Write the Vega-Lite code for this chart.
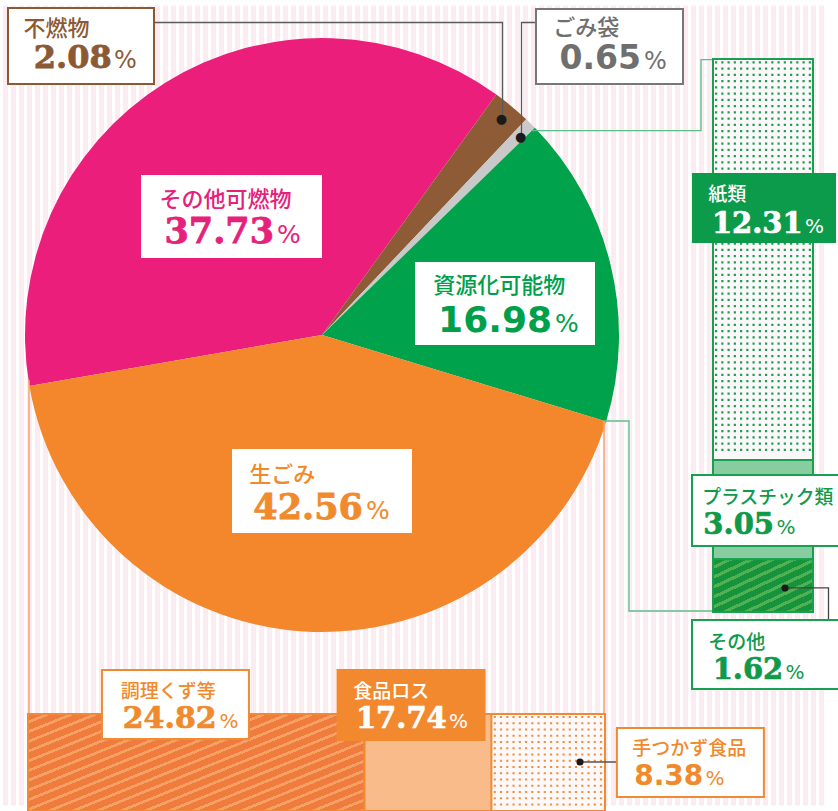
{
  "$schema": "https://vega.github.io/schema/vega-lite/v6.json",
  "padding": 0,
  "background": "#ffffff",
  "config": {"view": {"stroke": null}},
  "datasets": {
    "pie": [
      {"name": "その他可燃物", "value": 37.73, "order": 1},
      {"name": "不燃物", "value": 2.08, "order": 2},
      {"name": "ごみ袋", "value": 0.65, "order": 3},
      {"name": "資源化可能物", "value": 16.98, "order": 4},
      {"name": "生ごみ", "value": 42.56, "order": 5}
    ],
    "food": [
      {"name": "食品ロス", "value": 17.74, "order": 1, "level": 1},
      {"name": "調理くず等", "value": 24.82, "order": 2, "level": 1},
      {"name": "手つかず食品", "value": 8.38, "order": 1, "level": 2}
    ],
    "res": [
      {"name": "紙類", "value": 12.31, "order": 1},
      {"name": "プラスチック類", "value": 3.05, "order": 2},
      {"name": "その他", "value": 1.62, "order": 3}
    ]
  },
  "bounds": "flush",
  "align": "each",
  "columns": 2,
  "spacing": {"row": 44, "column": 69},
  "concat": [
    {
      "width": 644,
      "height": 670,
      "data": {"name": "pie"},
      "transform": [
        {"stack": "value", "groupby": [], "sort": [{"field": "order", "order": "ascending"}], "as": ["a0", "a1"]},
        {"calculate": "(datum.a0 + datum.a1) / 2", "as": "mid"}
      ],
      "layer": [
        {
          "transform": [{"filter": "datum.name === 'その他可燃物'"}],
          "mark": {"type": "point", "shape": "M-316.5,-329.5v800m8,-800v800m8,-800v800m8,-800v800m8,-800v800m8,-800v800m8,-800v800m8,-800v800m8,-800v800m8,-800v800m8,-800v800m8,-800v800m8,-800v800m8,-800v800m8,-800v800m8,-800v800m8,-800v800m8,-800v800m8,-800v800m8,-800v800m8,-800v800m8,-800v800m8,-800v800m8,-800v800m8,-800v800m8,-800v800m8,-800v800m8,-800v800m8,-800v800m8,-800v800m8,-800v800m8,-800v800m8,-800v800m8,-800v800m8,-800v800m8,-800v800m8,-800v800m8,-800v800m8,-800v800m8,-800v800m8,-800v800m8,-800v800m8,-800v800m8,-800v800m8,-800v800m8,-800v800m8,-800v800m8,-800v800m8,-800v800m8,-800v800m8,-800v800m8,-800v800m8,-800v800m8,-800v800m8,-800v800m8,-800v800m8,-800v800m8,-800v800m8,-800v800m8,-800v800m8,-800v800m8,-800v800m8,-800v800m8,-800v800m8,-800v800m8,-800v800m8,-800v800m8,-800v800m8,-800v800m8,-800v800m8,-800v800m8,-800v800m8,-800v800m8,-800v800m8,-800v800m8,-800v800m8,-800v800m8,-800v800m8,-800v800m8,-800v800m8,-800v800m8,-800v800m8,-800v800m8,-800v800m8,-800v800m8,-800v800m8,-800v800m8,-800v800m8,-800v800m8,-800v800m8,-800v800m8,-800v800m8,-800v800m8,-800v800m8,-800v800m8,-800v800m8,-800v800m8,-800v800m8,-800v800m8,-800v800m8,-800v800m8,-800v800m8,-800v800", "size": 4, "filled": false, "stroke": "#fcecf2", "strokeWidth": 5, "strokeJoin": "bevel", "opacity": 1}
        },
        {
          "mark": {"type": "arc", "outerRadius": 297},
          "encoding": {
            "theta": {"field": "a0", "type": "quantitative", "stack": null, "scale": {"domain": [0, 100], "range": [4.54, 10.8232], "nice": false, "zero": false}},
            "theta2": {"field": "a1"},
            "color": {"field": "name", "type": "nominal", "legend": null, "scale": {"domain": ["その他可燃物", "不燃物", "ごみ袋", "資源化可能物", "生ごみ"], "range": ["#eb1f7b", "#8d5b35", "#c9c9c9", "#00a34c", "#f4862b"]}}
          }
        },
        {
          "transform": [{"filter": "datum.name === '不燃物'"}],
          "mark": {"type": "point", "shape": "M0,0L0,-95.5L-347.5,-95.5", "size": 4, "filled": false, "stroke": "#5a5a5a", "strokeWidth": 1.3, "opacity": 1, "xOffset": 180.5, "yOffset": -217}
        },
        {
          "transform": [{"filter": "datum.name === 'ごみ袋'"}],
          "mark": {"type": "point", "shape": "M0,0L0,-114.5L13.5,-114.5", "size": 4, "filled": false, "stroke": "#5a5a5a", "strokeWidth": 1.3, "opacity": 1, "xOffset": 199.5, "yOffset": -198}
        },
        {
          "transform": [{"filter": "datum.name === '資源化可能物'"}],
          "mark": {"type": "point", "shape": "M0,0L169.5,0L169.5,-71L181.5,-71", "size": 4, "filled": false, "stroke": "#5bbd88", "strokeWidth": 1.3, "opacity": 1, "xOffset": 209.5, "yOffset": -204.3}
        },
        {
          "transform": [{"filter": "datum.name === '資源化可能物'"}],
          "mark": {"type": "point", "shape": "M0,0L25,0L25,190L109,190", "size": 4, "filled": false, "stroke": "#5bbd88", "strokeWidth": 1.3, "opacity": 1, "xOffset": 282, "yOffset": 86}
        },
        {
          "transform": [{"filter": "datum.name === '生ごみ'"}],
          "mark": {"type": "point", "shape": "M0,0L0,334", "size": 4, "filled": false, "stroke": "#f6a56b", "strokeWidth": 1.5, "opacity": 1, "xOffset": -293, "yOffset": 45}
        },
        {
          "transform": [{"filter": "datum.name === '生ごみ'"}],
          "mark": {"type": "point", "shape": "M0,0L0,293", "size": 4, "filled": false, "stroke": "#f6a56b", "strokeWidth": 1.5, "opacity": 1, "xOffset": 282, "yOffset": 86}
        },
        {
          "transform": [{"filter": "datum.name === 'その他可燃物'"}],
          "mark": {"type": "point", "shape": "M-1,-0.4586L1,-0.4586L1,0.4586L-1,0.4586Z", "size": 32761, "filled": true, "fill": "#ffffff", "strokeWidth": 0, "opacity": 1, "xOffset": -90.5, "yOffset": -118.5}
        },
        {
          "transform": [{"filter": "datum.name === '資源化可能物'"}],
          "mark": {"type": "point", "shape": "M-1,-0.4611L1,-0.4611L1,0.4611L-1,0.4611Z", "size": 32400, "filled": true, "fill": "#ffffff", "strokeWidth": 0, "opacity": 1, "xOffset": 183, "yOffset": -31.5}
        },
        {
          "transform": [{"filter": "datum.name === '生ごみ'"}],
          "mark": {"type": "point", "shape": "M-1,-0.4667L1,-0.4667L1,0.4667L-1,0.4667Z", "size": 32400, "filled": true, "fill": "#ffffff", "strokeWidth": 0, "opacity": 1, "xOffset": 0, "yOffset": 156}
        },
        {
          "transform": [{"filter": "datum.name === '不燃物'"}],
          "mark": {"type": "point", "shape": "M-1,-0.5205L1,-0.5205L1,0.5205L-1,0.5205Z", "size": 21316, "filled": true, "fill": "#ffffff", "stroke": "#8b5a35", "strokeWidth": 2, "opacity": 1, "xOffset": -241, "yOffset": -289}
        },
        {
          "transform": [{"filter": "datum.name === 'ごみ袋'"}],
          "mark": {"type": "point", "shape": "M-1,-0.5102L1,-0.5102L1,0.5102L-1,0.5102Z", "size": 21609, "filled": true, "fill": "#ffffff", "stroke": "#777777", "strokeWidth": 2, "opacity": 1, "xOffset": 287.5, "yOffset": -288.5}
        },
        {
          "transform": [{"filter": "datum.name === 'その他可燃物'"}],
          "mark": {"type": "text", "radius": 140, "dx": -88.5, "dy": -15.8, "align": "left", "baseline": "middle", "font": "Noto Sans CJK JP", "fontSize": 22, "fontWeight": 500, "fill": "#e6217b"},
          "encoding": {"theta": {"field": "mid", "type": "quantitative", "stack": null, "scale": {"domain": [0, 100], "range": [4.54, 10.8232], "nice": false, "zero": false}}, "text": {"field": "name"}}
        },
        {
          "transform": [{"filter": "datum.name === '資源化可能物'"}],
          "mark": {"type": "text", "radius": 188, "dx": -71.4, "dy": -4.8, "align": "left", "baseline": "middle", "font": "Noto Sans CJK JP", "fontSize": 22, "fontWeight": 500, "fill": "#00a04b"},
          "encoding": {"theta": {"field": "mid", "type": "quantitative", "stack": null, "scale": {"domain": [0, 100], "range": [4.54, 10.8232], "nice": false, "zero": false}}, "text": {"field": "name"}}
        },
        {
          "transform": [{"filter": "datum.name === '生ごみ'"}],
          "mark": {"type": "text", "radius": 156, "dx": -63.2, "dy": -15.7, "align": "left", "baseline": "middle", "font": "Noto Sans CJK JP", "fontSize": 22, "fontWeight": 500, "fill": "#f08a2c"},
          "encoding": {"theta": {"field": "mid", "type": "quantitative", "stack": null, "scale": {"domain": [0, 100], "range": [4.54, 10.8232], "nice": false, "zero": false}}, "text": {"field": "name"}}
        },
        {
          "transform": [{"filter": "datum.name === '不燃物'"}],
          "mark": {"type": "text", "radius": 281, "dx": -478.1, "dy": -89.9, "align": "left", "baseline": "middle", "font": "Noto Sans CJK JP", "fontSize": 22, "fontWeight": 500, "fill": "#8b5a35"},
          "encoding": {"theta": {"field": "mid", "type": "quantitative", "stack": null, "scale": {"domain": [0, 100], "range": [4.54, 10.8232], "nice": false, "zero": false}}, "text": {"field": "name"}}
        },
        {
          "transform": [{"filter": "datum.name === 'ごみ袋'"}],
          "mark": {"type": "text", "radius": 281, "dx": 34, "dy": -106.6, "align": "left", "baseline": "middle", "font": "Noto Sans CJK JP", "fontSize": 22, "fontWeight": 500, "fill": "#6f6f6f"},
          "encoding": {"theta": {"field": "mid", "type": "quantitative", "stack": null, "scale": {"domain": [0, 100], "range": [4.54, 10.8232], "nice": false, "zero": false}}, "text": {"field": "name"}}
        },
        {
          "transform": [{"filter": "datum.name === 'その他可燃物'"}],
          "mark": {"type": "text", "radius": 140, "dx": 26.2, "dy": 26.4, "align": "right", "baseline": "alphabetic", "font": "DejaVu Serif", "fontSize": 35, "fontWeight": "bold", "fill": "#e6217b", "stroke": "#e6217b", "strokeWidth": 0.8},
          "encoding": {"theta": {"field": "mid", "type": "quantitative", "stack": null, "scale": {"domain": [0, 100], "range": [4.54, 10.8232], "nice": false, "zero": false}}, "text": {"field": "value", "type": "quantitative", "format": ".2f"}}
        },
        {
          "transform": [{"filter": "datum.name === '資源化可能物'"}],
          "mark": {"type": "text", "radius": 188, "dx": 47.3, "dy": 41.1, "align": "right", "baseline": "alphabetic", "font": "DejaVu Sans", "fontSize": 36, "fontWeight": "bold", "fill": "#00a04b"},
          "encoding": {"theta": {"field": "mid", "type": "quantitative", "stack": null, "scale": {"domain": [0, 100], "range": [4.54, 10.8232], "nice": false, "zero": false}}, "text": {"field": "value", "type": "quantitative", "format": ".2f"}}
        },
        {
          "transform": [{"filter": "datum.name === '生ごみ'"}],
          "mark": {"type": "text", "radius": 156, "dx": 50.5, "dy": 28.6, "align": "right", "baseline": "alphabetic", "font": "DejaVu Serif", "fontSize": 35, "fontWeight": "bold", "fill": "#f08a2c", "stroke": "#f08a2c", "strokeWidth": 0.8},
          "encoding": {"theta": {"field": "mid", "type": "quantitative", "stack": null, "scale": {"domain": [0, 100], "range": [4.54, 10.8232], "nice": false, "zero": false}}, "text": {"field": "value", "type": "quantitative", "format": ".2f"}}
        },
        {
          "transform": [{"filter": "datum.name === '不燃物'"}],
          "mark": {"type": "text", "radius": 281, "dx": -389.7, "dy": -50.5, "align": "right", "baseline": "alphabetic", "font": "DejaVu Serif", "fontSize": 32, "fontWeight": "bold", "fill": "#8b5a35", "stroke": "#8b5a35", "strokeWidth": 0.8},
          "encoding": {"theta": {"field": "mid", "type": "quantitative", "stack": null, "scale": {"domain": [0, 100], "range": [4.54, 10.8232], "nice": false, "zero": false}}, "text": {"field": "value", "type": "quantitative", "format": ".2f"}}
        },
        {
          "transform": [{"filter": "datum.name === 'ごみ袋'"}],
          "mark": {"type": "text", "radius": 281, "dx": 121.7, "dy": -65.6, "align": "right", "baseline": "alphabetic", "font": "DejaVu Sans", "fontSize": 33, "fontWeight": "bold", "fill": "#6f6f6f"},
          "encoding": {"theta": {"field": "mid", "type": "quantitative", "stack": null, "scale": {"domain": [0, 100], "range": [4.54, 10.8232], "nice": false, "zero": false}}, "text": {"field": "value", "type": "quantitative", "format": ".2f"}}
        },
        {
          "transform": [{"filter": "datum.name === 'その他可燃物'"}],
          "mark": {"type": "text", "radius": 140, "dx": 29.2, "dy": 26.4, "align": "left", "baseline": "alphabetic", "font": "DejaVu Sans", "fontSize": 25, "fill": "#e6217b"},
          "encoding": {"theta": {"field": "mid", "type": "quantitative", "stack": null, "scale": {"domain": [0, 100], "range": [4.54, 10.8232], "nice": false, "zero": false}}, "text": {"value": "%"}}
        },
        {
          "transform": [{"filter": "datum.name === '資源化可能物'"}],
          "mark": {"type": "text", "radius": 188, "dx": 50.3, "dy": 41.1, "align": "left", "baseline": "alphabetic", "font": "DejaVu Sans", "fontSize": 25, "fill": "#00a04b"},
          "encoding": {"theta": {"field": "mid", "type": "quantitative", "stack": null, "scale": {"domain": [0, 100], "range": [4.54, 10.8232], "nice": false, "zero": false}}, "text": {"value": "%"}}
        },
        {
          "transform": [{"filter": "datum.name === '生ごみ'"}],
          "mark": {"type": "text", "radius": 156, "dx": 53.5, "dy": 28.6, "align": "left", "baseline": "alphabetic", "font": "DejaVu Sans", "fontSize": 25, "fill": "#f08a2c"},
          "encoding": {"theta": {"field": "mid", "type": "quantitative", "stack": null, "scale": {"domain": [0, 100], "range": [4.54, 10.8232], "nice": false, "zero": false}}, "text": {"value": "%"}}
        },
        {
          "transform": [{"filter": "datum.name === '不燃物'"}],
          "mark": {"type": "text", "radius": 281, "dx": -387.4, "dy": -50.5, "align": "left", "baseline": "alphabetic", "font": "DejaVu Sans", "fontSize": 24, "fill": "#8b5a35"},
          "encoding": {"theta": {"field": "mid", "type": "quantitative", "stack": null, "scale": {"domain": [0, 100], "range": [4.54, 10.8232], "nice": false, "zero": false}}, "text": {"value": "%"}}
        },
        {
          "transform": [{"filter": "datum.name === 'ごみ袋'"}],
          "mark": {"type": "text", "radius": 281, "dx": 124.7, "dy": -65.6, "align": "left", "baseline": "alphabetic", "font": "DejaVu Sans", "fontSize": 24, "fill": "#6f6f6f"},
          "encoding": {"theta": {"field": "mid", "type": "quantitative", "stack": null, "scale": {"domain": [0, 100], "range": [4.54, 10.8232], "nice": false, "zero": false}}, "text": {"value": "%"}}
        },
        {
          "transform": [{"filter": "datum.name === '不燃物'"}],
          "mark": {"type": "text", "radius": 281, "dx": 0, "dy": 0, "align": "center", "baseline": "middle", "font": "DejaVu Sans", "fontSize": 13, "fill": "#1a1a1a"},
          "encoding": {"theta": {"field": "mid", "type": "quantitative", "stack": null, "scale": {"domain": [0, 100], "range": [4.54, 10.8232], "nice": false, "zero": false}}, "text": {"value": "●"}}
        },
        {
          "transform": [{"filter": "datum.name === 'ごみ袋'"}],
          "mark": {"type": "text", "radius": 281, "dx": 1.4, "dy": 1.8, "align": "center", "baseline": "middle", "font": "DejaVu Sans", "fontSize": 13, "fill": "#1a1a1a"},
          "encoding": {"theta": {"field": "mid", "type": "quantitative", "stack": null, "scale": {"domain": [0, 100], "range": [4.54, 10.8232], "nice": false, "zero": false}}, "text": {"value": "●"}}
        }
      ]
    },
    {
      "width": 100,
      "height": 612,
      "data": {"name": "res"},
      "transform": [
        {"stack": "value", "groupby": [], "sort": [{"field": "order", "order": "ascending"}], "as": ["c0", "c1"]},
        {"calculate": "(datum.c0 + datum.c1) / 2", "as": "cm"}
      ],
      "encoding": {
        "y": {"field": "cm", "type": "quantitative", "axis": null, "scale": {"domain": [0, 16.98], "range": [59, 612], "nice": false, "zero": false}}
      },
      "layer": [
        {
          "transform": [{"filter": "datum.name === '紙類'"}],
          "mark": {"type": "rect", "fill": "#fcf7f9", "stroke": "#16a04f", "strokeWidth": 2},
          "encoding": {"y": {"field": "c0", "type": "quantitative", "axis": null, "scale": {"domain": [0, 16.98], "range": [59, 612], "nice": false, "zero": false}}, "y2": {"field": "c1"}}
        },
        {
          "transform": [{"filter": "datum.name === '紙類'"}],
          "mark": {"type": "point", "shape": "M-48,-197h97m-97,6.25h97m-97,6.25h97m-97,6.25h97m-97,6.25h97m-97,6.25h97m-97,6.25h97m-97,6.25h97m-97,6.25h97m-97,6.25h97m-97,6.25h97m-97,6.25h97m-97,6.25h97m-97,6.25h97m-97,6.25h97m-97,6.25h97m-97,6.25h97m-97,6.25h97m-97,6.25h97m-97,6.25h97m-97,6.25h97m-97,6.25h97m-97,6.25h97m-97,6.25h97m-97,6.25h97m-97,6.25h97m-97,6.25h97m-97,6.25h97m-97,6.25h97m-97,6.25h97m-97,6.25h97m-97,6.25h97m-97,6.25h97m-97,6.25h97m-97,6.25h97m-97,6.25h97m-97,6.25h97m-97,6.25h97m-97,6.25h97m-97,6.25h97m-97,6.25h97m-97,6.25h97m-97,6.25h97m-97,6.25h97m-97,6.25h97m-97,6.25h97m-97,6.25h97m-97,6.25h97m-97,6.25h97m-97,6.25h97m-97,6.25h97m-97,6.25h97m-97,6.25h97m-97,6.25h97m-97,6.25h97m-97,6.25h97m-97,6.25h97m-97,6.25h97m-97,6.25h97m-97,6.25h97m-97,6.25h97m-97,6.25h97m-97,6.25h97", "size": 4, "filled": false, "stroke": "#19a256", "strokeWidth": 2.2, "strokeDash": [2.2, 4.05], "strokeJoin": "bevel", "opacity": 1}
        },
        {
          "transform": [{"filter": "datum.name === 'プラスチック類'"}],
          "mark": {"type": "rect", "fill": "#88cda0", "stroke": "#16a04f", "strokeWidth": 2},
          "encoding": {"y": {"field": "c0", "type": "quantitative", "axis": null, "scale": {"domain": [0, 16.98], "range": [59, 612], "nice": false, "zero": false}}, "y2": {"field": "c1"}}
        },
        {
          "transform": [{"filter": "datum.name === 'その他'"}],
          "mark": {"type": "rect", "stroke": "#16a04f", "strokeWidth": 2, "fill": {"gradient": "linear", "x1": 0, "y1": 0, "x2": 0.9355, "y2": 1.0572, "stops": [
            {"offset": 0, "color": "#17923d"},
            {"offset": 0.065, "color": "#17923d"}, {"offset": 0.065, "color": "#4fb152"}, {"offset": 0.1, "color": "#4fb152"}, {"offset": 0.1, "color": "#17923d"},
            {"offset": 0.165, "color": "#17923d"}, {"offset": 0.165, "color": "#4fb152"}, {"offset": 0.2, "color": "#4fb152"}, {"offset": 0.2, "color": "#17923d"},
            {"offset": 0.265, "color": "#17923d"}, {"offset": 0.265, "color": "#4fb152"}, {"offset": 0.3, "color": "#4fb152"}, {"offset": 0.3, "color": "#17923d"},
            {"offset": 0.365, "color": "#17923d"}, {"offset": 0.365, "color": "#4fb152"}, {"offset": 0.4, "color": "#4fb152"}, {"offset": 0.4, "color": "#17923d"},
            {"offset": 0.465, "color": "#17923d"}, {"offset": 0.465, "color": "#4fb152"}, {"offset": 0.5, "color": "#4fb152"}, {"offset": 0.5, "color": "#17923d"},
            {"offset": 0.565, "color": "#17923d"}, {"offset": 0.565, "color": "#4fb152"}, {"offset": 0.6, "color": "#4fb152"}, {"offset": 0.6, "color": "#17923d"},
            {"offset": 0.665, "color": "#17923d"}, {"offset": 0.665, "color": "#4fb152"}, {"offset": 0.7, "color": "#4fb152"}, {"offset": 0.7, "color": "#17923d"},
            {"offset": 0.765, "color": "#17923d"}, {"offset": 0.765, "color": "#4fb152"}, {"offset": 0.8, "color": "#4fb152"}, {"offset": 0.8, "color": "#17923d"},
            {"offset": 0.865, "color": "#17923d"}, {"offset": 0.865, "color": "#4fb152"}, {"offset": 0.9, "color": "#4fb152"}, {"offset": 0.9, "color": "#17923d"},
            {"offset": 0.965, "color": "#17923d"}, {"offset": 0.965, "color": "#4fb152"}, {"offset": 1, "color": "#4fb152"}
          ]}},
          "encoding": {"y": {"field": "c0", "type": "quantitative", "axis": null, "scale": {"domain": [0, 16.98], "range": [59, 612], "nice": false, "zero": false}}, "y2": {"field": "c1"}}
        },
        {
          "transform": [{"filter": "datum.name === 'その他'"}],
          "mark": {"type": "point", "shape": "M0,0L43.5,0L43.5,32", "size": 4, "filled": false, "stroke": "#444444", "strokeWidth": 1.3, "opacity": 1, "xOffset": 22, "yOffset": 2.3}
        },
        {
          "transform": [{"filter": "datum.name === '紙類'"}],
          "mark": {"type": "point", "shape": "M-1,-0.4861L1,-0.4861L1,0.4861L-1,0.4861Z", "size": 20736, "filled": true, "fill": "#0b9b4a", "strokeWidth": 0, "opacity": 1, "xOffset": 1, "yOffset": -51.5}
        },
        {
          "transform": [{"filter": "datum.name === 'プラスチック類'"}],
          "mark": {"type": "point", "shape": "M-1,-0.4671L1,-0.4671L1,0.4671L-1,0.4671Z", "size": 23104, "filled": true, "fill": "#ffffff", "stroke": "#16a04f", "strokeWidth": 2, "opacity": 1, "xOffset": 5, "yOffset": 0.9}
        },
        {
          "transform": [{"filter": "datum.name === 'その他'"}],
          "mark": {"type": "point", "shape": "M-1,-0.4539L1,-0.4539L1,0.4539L-1,0.4539Z", "size": 23104, "filled": true, "fill": "#ffffff", "stroke": "#16a04f", "strokeWidth": 2, "opacity": 1, "xOffset": 5, "yOffset": 68.8}
        },
        {
          "transform": [{"filter": "datum.name === 'その他'"}],
          "mark": {"type": "point", "shape": "circle", "size": 50, "filled": true, "fill": "#1a1a1a", "opacity": 1, "xOffset": 22, "yOffset": 2.3}
        },
        {
          "transform": [{"filter": "datum.name === '紙類'"}],
          "mark": {"type": "text", "dx": -54.7, "dy": -64.3, "align": "left", "baseline": "middle", "font": "Noto Sans CJK JP", "fontSize": 19, "fontWeight": 500, "fill": "#ffffff"},
          "encoding": {"text": {"field": "name"}}
        },
        {
          "transform": [{"filter": "datum.name === 'プラスチック類'"}],
          "mark": {"type": "text", "dx": -60.8, "dy": -11.9, "align": "left", "baseline": "middle", "font": "Noto Sans CJK JP", "fontSize": 18.8, "fontWeight": 500, "fill": "#0f9a49"},
          "encoding": {"text": {"field": "name"}}
        },
        {
          "transform": [{"filter": "datum.name === 'その他'"}],
          "mark": {"type": "text", "dx": -54.7, "dy": 57.3, "align": "left", "baseline": "middle", "font": "Noto Sans CJK JP", "fontSize": 19, "fontWeight": 500, "fill": "#0f9a49"},
          "encoding": {"text": {"field": "name"}}
        },
        {
          "transform": [{"filter": "datum.name === '紙類'"}],
          "mark": {"type": "text", "dx": 39.7, "dy": -26.8, "align": "right", "baseline": "alphabetic", "font": "DejaVu Serif", "fontSize": 29, "fontWeight": "bold", "fill": "#ffffff", "stroke": "#ffffff", "strokeWidth": 0.7},
          "encoding": {"text": {"field": "value", "type": "quantitative", "format": ".2f"}}
        },
        {
          "transform": [{"filter": "datum.name === 'プラスチック類'"}],
          "mark": {"type": "text", "dx": 11, "dy": 24.7, "align": "right", "baseline": "alphabetic", "font": "DejaVu Serif", "fontSize": 29, "fontWeight": "bold", "fill": "#0f9a49", "stroke": "#0f9a49", "strokeWidth": 0.7},
          "encoding": {"text": {"field": "value", "type": "quantitative", "format": ".2f"}}
        },
        {
          "transform": [{"filter": "datum.name === 'その他'"}],
          "mark": {"type": "text", "dx": 20.3, "dy": 93, "align": "right", "baseline": "alphabetic", "font": "DejaVu Serif", "fontSize": 29, "fontWeight": "bold", "fill": "#0f9a49", "stroke": "#0f9a49", "strokeWidth": 0.7},
          "encoding": {"text": {"field": "value", "type": "quantitative", "format": ".2f"}}
        },
        {
          "transform": [{"filter": "datum.name === '紙類'"}],
          "mark": {"type": "text", "dx": 42, "dy": -26.8, "align": "left", "baseline": "alphabetic", "font": "DejaVu Sans", "fontSize": 20, "fill": "#ffffff"},
          "encoding": {"text": {"value": "%"}}
        },
        {
          "transform": [{"filter": "datum.name === 'プラスチック類'"}],
          "mark": {"type": "text", "dx": 13.5, "dy": 24.7, "align": "left", "baseline": "alphabetic", "font": "DejaVu Sans", "fontSize": 20, "fill": "#0f9a49"},
          "encoding": {"text": {"value": "%"}}
        },
        {
          "transform": [{"filter": "datum.name === 'その他'"}],
          "mark": {"type": "text", "dx": 22.5, "dy": 93, "align": "left", "baseline": "alphabetic", "font": "DejaVu Sans", "fontSize": 20, "fill": "#0f9a49"},
          "encoding": {"text": {"value": "%"}}
        }
      ]
    },
    {
      "width": 644,
      "height": 97,
      "data": {"name": "food"},
      "transform": [
        {"stack": "value", "groupby": ["level"], "sort": [{"field": "order", "order": "ascending"}], "as": ["b0", "b1"]},
        {"calculate": "(datum.b0 + datum.b1) / 2", "as": "bm"}
      ],
      "encoding": {
        "x": {"field": "bm", "type": "quantitative", "axis": null, "scale": {"domain": [0, 42.56], "range": [605, 28], "nice": false, "zero": false}}
      },
      "layer": [
        {
          "transform": [{"filter": "datum.name === '調理くず等'"}],
          "mark": {"type": "rect", "stroke": "#f08a33", "strokeWidth": 2, "fill": {"gradient": "linear", "x1": 0, "y1": 0, "x2": 1.136, "y2": 0.8095, "stops": [
            {"offset": 0, "color": "#ef7b3c"},
            {"offset": 0.0292, "color": "#ef7b3c"}, {"offset": 0.0292, "color": "#f6a066"}, {"offset": 0.0417, "color": "#f6a066"}, {"offset": 0.0417, "color": "#ef7b3c"},
            {"offset": 0.0708, "color": "#ef7b3c"}, {"offset": 0.0708, "color": "#f6a066"}, {"offset": 0.0833, "color": "#f6a066"}, {"offset": 0.0833, "color": "#ef7b3c"},
            {"offset": 0.1125, "color": "#ef7b3c"}, {"offset": 0.1125, "color": "#f6a066"}, {"offset": 0.125, "color": "#f6a066"}, {"offset": 0.125, "color": "#ef7b3c"},
            {"offset": 0.1542, "color": "#ef7b3c"}, {"offset": 0.1542, "color": "#f6a066"}, {"offset": 0.1667, "color": "#f6a066"}, {"offset": 0.1667, "color": "#ef7b3c"},
            {"offset": 0.1958, "color": "#ef7b3c"}, {"offset": 0.1958, "color": "#f6a066"}, {"offset": 0.2083, "color": "#f6a066"}, {"offset": 0.2083, "color": "#ef7b3c"},
            {"offset": 0.2375, "color": "#ef7b3c"}, {"offset": 0.2375, "color": "#f6a066"}, {"offset": 0.25, "color": "#f6a066"}, {"offset": 0.25, "color": "#ef7b3c"},
            {"offset": 0.2792, "color": "#ef7b3c"}, {"offset": 0.2792, "color": "#f6a066"}, {"offset": 0.2917, "color": "#f6a066"}, {"offset": 0.2917, "color": "#ef7b3c"},
            {"offset": 0.3208, "color": "#ef7b3c"}, {"offset": 0.3208, "color": "#f6a066"}, {"offset": 0.3333, "color": "#f6a066"}, {"offset": 0.3333, "color": "#ef7b3c"},
            {"offset": 0.3625, "color": "#ef7b3c"}, {"offset": 0.3625, "color": "#f6a066"}, {"offset": 0.375, "color": "#f6a066"}, {"offset": 0.375, "color": "#ef7b3c"},
            {"offset": 0.4042, "color": "#ef7b3c"}, {"offset": 0.4042, "color": "#f6a066"}, {"offset": 0.4167, "color": "#f6a066"}, {"offset": 0.4167, "color": "#ef7b3c"},
            {"offset": 0.4458, "color": "#ef7b3c"}, {"offset": 0.4458, "color": "#f6a066"}, {"offset": 0.4583, "color": "#f6a066"}, {"offset": 0.4583, "color": "#ef7b3c"},
            {"offset": 0.4875, "color": "#ef7b3c"}, {"offset": 0.4875, "color": "#f6a066"}, {"offset": 0.5, "color": "#f6a066"}, {"offset": 0.5, "color": "#ef7b3c"},
            {"offset": 0.5292, "color": "#ef7b3c"}, {"offset": 0.5292, "color": "#f6a066"}, {"offset": 0.5417, "color": "#f6a066"}, {"offset": 0.5417, "color": "#ef7b3c"},
            {"offset": 0.5708, "color": "#ef7b3c"}, {"offset": 0.5708, "color": "#f6a066"}, {"offset": 0.5833, "color": "#f6a066"}, {"offset": 0.5833, "color": "#ef7b3c"},
            {"offset": 0.6125, "color": "#ef7b3c"}, {"offset": 0.6125, "color": "#f6a066"}, {"offset": 0.625, "color": "#f6a066"}, {"offset": 0.625, "color": "#ef7b3c"},
            {"offset": 0.6542, "color": "#ef7b3c"}, {"offset": 0.6542, "color": "#f6a066"}, {"offset": 0.6667, "color": "#f6a066"}, {"offset": 0.6667, "color": "#ef7b3c"},
            {"offset": 0.6958, "color": "#ef7b3c"}, {"offset": 0.6958, "color": "#f6a066"}, {"offset": 0.7083, "color": "#f6a066"}, {"offset": 0.7083, "color": "#ef7b3c"},
            {"offset": 0.7375, "color": "#ef7b3c"}, {"offset": 0.7375, "color": "#f6a066"}, {"offset": 0.75, "color": "#f6a066"}, {"offset": 0.75, "color": "#ef7b3c"},
            {"offset": 0.7792, "color": "#ef7b3c"}, {"offset": 0.7792, "color": "#f6a066"}, {"offset": 0.7917, "color": "#f6a066"}, {"offset": 0.7917, "color": "#ef7b3c"},
            {"offset": 0.8208, "color": "#ef7b3c"}, {"offset": 0.8208, "color": "#f6a066"}, {"offset": 0.8333, "color": "#f6a066"}, {"offset": 0.8333, "color": "#ef7b3c"},
            {"offset": 0.8625, "color": "#ef7b3c"}, {"offset": 0.8625, "color": "#f6a066"}, {"offset": 0.875, "color": "#f6a066"}, {"offset": 0.875, "color": "#ef7b3c"},
            {"offset": 0.9042, "color": "#ef7b3c"}, {"offset": 0.9042, "color": "#f6a066"}, {"offset": 0.9167, "color": "#f6a066"}, {"offset": 0.9167, "color": "#ef7b3c"},
            {"offset": 0.9458, "color": "#ef7b3c"}, {"offset": 0.9458, "color": "#f6a066"}, {"offset": 0.9583, "color": "#f6a066"}, {"offset": 0.9583, "color": "#ef7b3c"},
            {"offset": 0.9875, "color": "#ef7b3c"}, {"offset": 0.9875, "color": "#f6a066"}, {"offset": 1, "color": "#f6a066"}
          ]}},
          "encoding": {"x": {"field": "b0", "type": "quantitative", "axis": null, "scale": {"domain": [0, 42.56], "range": [605, 28], "nice": false, "zero": false}}, "x2": {"field": "b1"}}
        },
        {
          "transform": [{"filter": "datum.name === '食品ロス'"}],
          "mark": {"type": "rect", "fill": "#f8bb89", "stroke": "#f08a33", "strokeWidth": 2},
          "encoding": {"x": {"field": "b0", "type": "quantitative", "axis": null, "scale": {"domain": [0, 42.56], "range": [605, 28], "nice": false, "zero": false}}, "x2": {"field": "b1"}}
        },
        {
          "transform": [{"filter": "datum.name === '手つかず食品'"}],
          "mark": {"type": "rect", "fill": "#fdf8f9", "stroke": "#f08a33", "strokeWidth": 2},
          "encoding": {"x": {"field": "b0", "type": "quantitative", "axis": null, "scale": {"domain": [0, 42.56], "range": [605, 28], "nice": false, "zero": false}}, "x2": {"field": "b1"}}
        },
        {
          "transform": [{"filter": "datum.name === '手つかず食品'"}],
          "mark": {"type": "point", "shape": "M-54.5,-45.5h110m-110,6.25h110m-110,6.25h110m-110,6.25h110m-110,6.25h110m-110,6.25h110m-110,6.25h110m-110,6.25h110m-110,6.25h110m-110,6.25h110m-110,6.25h110m-110,6.25h110m-110,6.25h110m-110,6.25h110m-110,6.25h110", "size": 4, "filled": false, "stroke": "#f4913f", "strokeWidth": 2.2, "strokeDash": [2.2, 4.05], "strokeJoin": "bevel", "opacity": 1}
        },
        {
          "transform": [{"filter": "datum.name === '手つかず食品'"}],
          "mark": {"type": "point", "shape": "M0,0L37,0", "size": 4, "filled": false, "stroke": "#555555", "strokeWidth": 1.3, "opacity": 1, "xOffset": 31.8, "yOffset": -0.5}
        },
        {
          "transform": [{"filter": "datum.name === '調理くず等'"}],
          "mark": {"type": "point", "shape": "M-1,-0.4694L1,-0.4694L1,0.4694L-1,0.4694Z", "size": 21609, "filled": true, "fill": "#ffffff", "stroke": "#f08a33", "strokeWidth": 2, "opacity": 1, "xOffset": -20.8, "yOffset": -58}
        },
        {
          "transform": [{"filter": "datum.name === '食品ロス'"}],
          "mark": {"type": "point", "shape": "M-1,-0.4832L1,-0.4832L1,0.4832L-1,0.4832Z", "size": 22201, "filled": true, "fill": "#f3892f", "strokeWidth": 0, "opacity": 1, "xOffset": -73.7, "yOffset": -57.5}
        },
        {
          "transform": [{"filter": "datum.name === '手つかず食品'"}],
          "mark": {"type": "point", "shape": "M-1,-0.4694L1,-0.4694L1,0.4694L-1,0.4694Z", "size": 21609, "filled": true, "fill": "#ffffff", "stroke": "#f08a33", "strokeWidth": 2, "opacity": 1, "xOffset": 142.2, "yOffset": -0.1}
        },
        {
          "transform": [{"filter": "datum.name === '手つかず食品'"}],
          "mark": {"type": "point", "shape": "circle", "size": 50, "filled": true, "fill": "#1a1a1a", "opacity": 1, "xOffset": 31.8, "yOffset": -0.5}
        },
        {
          "transform": [{"filter": "datum.name === '調理くず等'"}],
          "mark": {"type": "text", "dx": -75.6, "dy": -70.7, "align": "left", "baseline": "middle", "font": "Noto Sans CJK JP", "fontSize": 19, "fontWeight": 500, "fill": "#f08a2c"},
          "encoding": {"text": {"field": "name"}}
        },
        {
          "transform": [{"filter": "datum.name === '食品ロス'"}],
          "mark": {"type": "text", "dx": -131.4, "dy": -71, "align": "left", "baseline": "middle", "font": "Noto Sans CJK JP", "fontSize": 19, "fontWeight": 500, "fill": "#ffffff"},
          "encoding": {"text": {"field": "name"}}
        },
        {
          "transform": [{"filter": "datum.name === '手つかず食品'"}],
          "mark": {"type": "text", "dx": 84.1, "dy": -13.2, "align": "left", "baseline": "middle", "font": "Noto Sans CJK JP", "fontSize": 19, "fontWeight": 500, "fill": "#f08a2c"},
          "encoding": {"text": {"field": "name"}}
        },
        {
          "transform": [{"filter": "datum.name === '調理くず等'"}],
          "mark": {"type": "text", "dx": 20.4, "dy": -34.2, "align": "right", "baseline": "alphabetic", "font": "DejaVu Serif", "fontSize": 30, "fontWeight": "bold", "fill": "#f08a2c", "stroke": "#f08a2c", "strokeWidth": 0.7},
          "encoding": {"text": {"field": "value", "type": "quantitative", "format": ".2f"}}
        },
        {
          "transform": [{"filter": "datum.name === '食品ロス'"}],
          "mark": {"type": "text", "dx": -38, "dy": -34.2, "align": "right", "baseline": "alphabetic", "font": "DejaVu Serif", "fontSize": 29, "fontWeight": "bold", "fill": "#ffffff", "stroke": "#ffffff", "strokeWidth": 0.7},
          "encoding": {"text": {"field": "value", "type": "quantitative", "format": ".2f"}}
        },
        {
          "transform": [{"filter": "datum.name === '手つかず食品'"}],
          "mark": {"type": "text", "dx": 155.1, "dy": 22.5, "align": "right", "baseline": "alphabetic", "font": "DejaVu Sans", "fontSize": 28, "fontWeight": "bold", "fill": "#f08a2c"},
          "encoding": {"text": {"field": "value", "type": "quantitative", "format": ".2f"}}
        },
        {
          "transform": [{"filter": "datum.name === '調理くず等'"}],
          "mark": {"type": "text", "dx": 23.2, "dy": -34.2, "align": "left", "baseline": "alphabetic", "font": "DejaVu Sans", "fontSize": 20, "fill": "#f08a2c"},
          "encoding": {"text": {"value": "%"}}
        },
        {
          "transform": [{"filter": "datum.name === '食品ロス'"}],
          "mark": {"type": "text", "dx": -35.7, "dy": -34.2, "align": "left", "baseline": "alphabetic", "font": "DejaVu Sans", "fontSize": 20, "fill": "#ffffff"},
          "encoding": {"text": {"value": "%"}}
        },
        {
          "transform": [{"filter": "datum.name === '手つかず食品'"}],
          "mark": {"type": "text", "dx": 157.3, "dy": 22.5, "align": "left", "baseline": "alphabetic", "font": "DejaVu Sans", "fontSize": 20, "fill": "#f08a2c"},
          "encoding": {"text": {"value": "%"}}
        }
      ]
    }
  ]
}
